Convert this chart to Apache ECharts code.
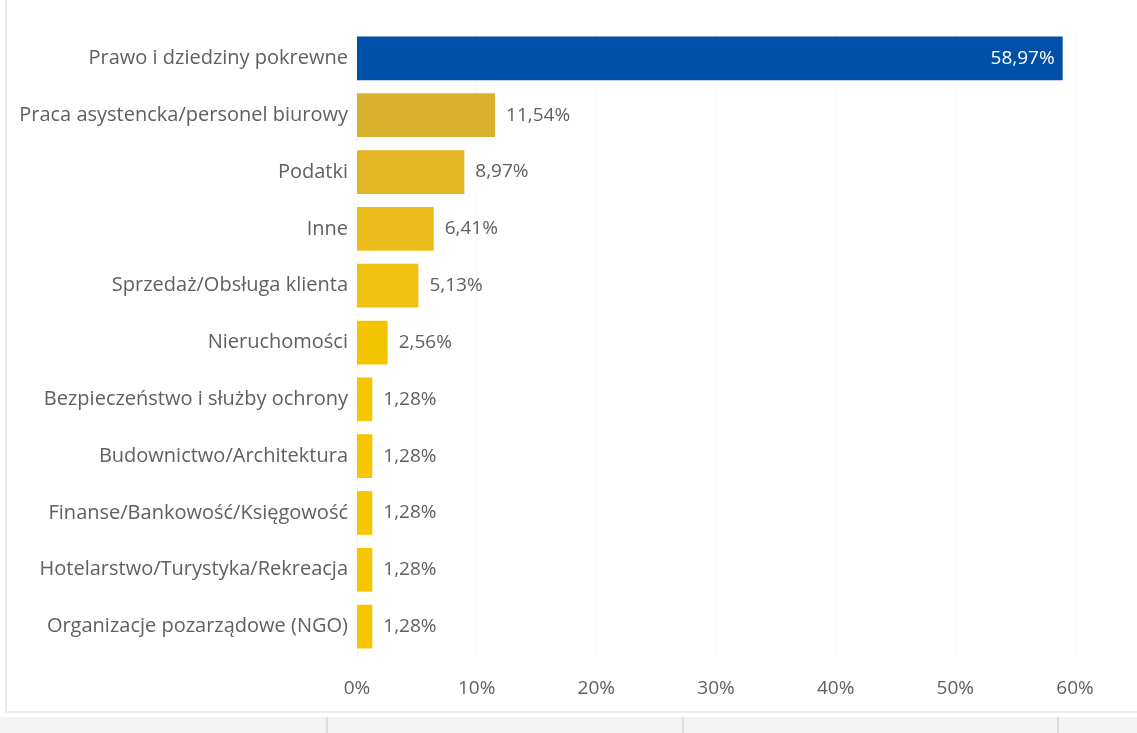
<!DOCTYPE html>
<html><head><meta charset="utf-8">
<script src="https://cdn.jsdelivr.net/npm/echarts@6/dist/echarts.min.js"></script>
<style>html,body{margin:0;padding:0;background:#fff}#c{width:1137px;height:733px}</style>
</head><body><div id="c"></div>
<script>
const categories = ["Prawo i dziedziny pokrewne","Praca asystencka/personel biurowy","Podatki","Inne","Sprzedaż/Obsługa klienta","Nieruchomości","Bezpieczeństwo i służby ochrony","Budownictwo/Architektura","Finanse/Bankowość/Księgowość","Hotelarstwo/Turystyka/Rekreacja","Organizacje pozarządowe (NGO)"];
const values = [58.97,11.54,8.97,6.41,5.13,2.56,1.28,1.28,1.28,1.28,1.28];
const barColors = ["#0050AA","#D9B02C","#E2B524","#EBBC1A","#F0C012","#F5C400","#F7C600","#F7C600","#F7C600","#F7C600","#F7C600"];
const xTicks = [0,10,20,30,40,50,60];

const fmt = v => v.toFixed(2).replace('.', ',') + '%';
const chart = echarts.init(document.getElementById('c'));
chart.setOption({
  animation:false,
  textStyle:{fontFamily:'Open Sans'},
  graphic:[
    {type:'rect',shape:{x:6,y:-5,width:1140,height:717},style:{fill:'none',stroke:'#d9d9d9',lineWidth:1},silent:true},
    {type:'rect',shape:{x:0,y:717,width:1137,height:16},style:{fill:'#f3f3f3'},silent:true},
    {type:'line',shape:{x1:327,y1:717,x2:327,y2:733},style:{stroke:'#c8c8c8'}},
    {type:'line',shape:{x1:683,y1:717,x2:683,y2:733},style:{stroke:'#c8c8c8'}},
    {type:'line',shape:{x1:1058,y1:717,x2:1058,y2:733},style:{stroke:'#c8c8c8'}}
  ],
  grid:{left:357,right:62,top:30,bottom:78,containLabel:false},
  xAxis:{type:'value',min:xTicks[0],max:xTicks[xTicks.length-1],interval:10,
    axisLine:{show:false},axisTick:{show:false},
    axisLabel:{formatter:'{value}%',color:'#606060',fontSize:19,margin:24},
    splitLine:{show:true,lineStyle:{color:'#eeeeee',type:'dotted',width:1}}},
  yAxis:{type:'category',data:categories,inverse:true,
    axisLine:{show:false},axisTick:{show:false},
    axisLabel:{color:'#606060',fontSize:20,margin:9}},
  series:[{type:'bar',barCategoryGap:'23%',
    data:values.map((v,i)=>({value:v,itemStyle:{color:barColors[i]},
      label:i===0?{show:true,position:'insideRight',color:'#ffffff',distance:8}:{show:true,position:'right',color:'#606060',distance:11}})),
    label:{show:true,fontSize:19,formatter:p=>fmt(p.value)}
  }]
});
</script></body></html>
